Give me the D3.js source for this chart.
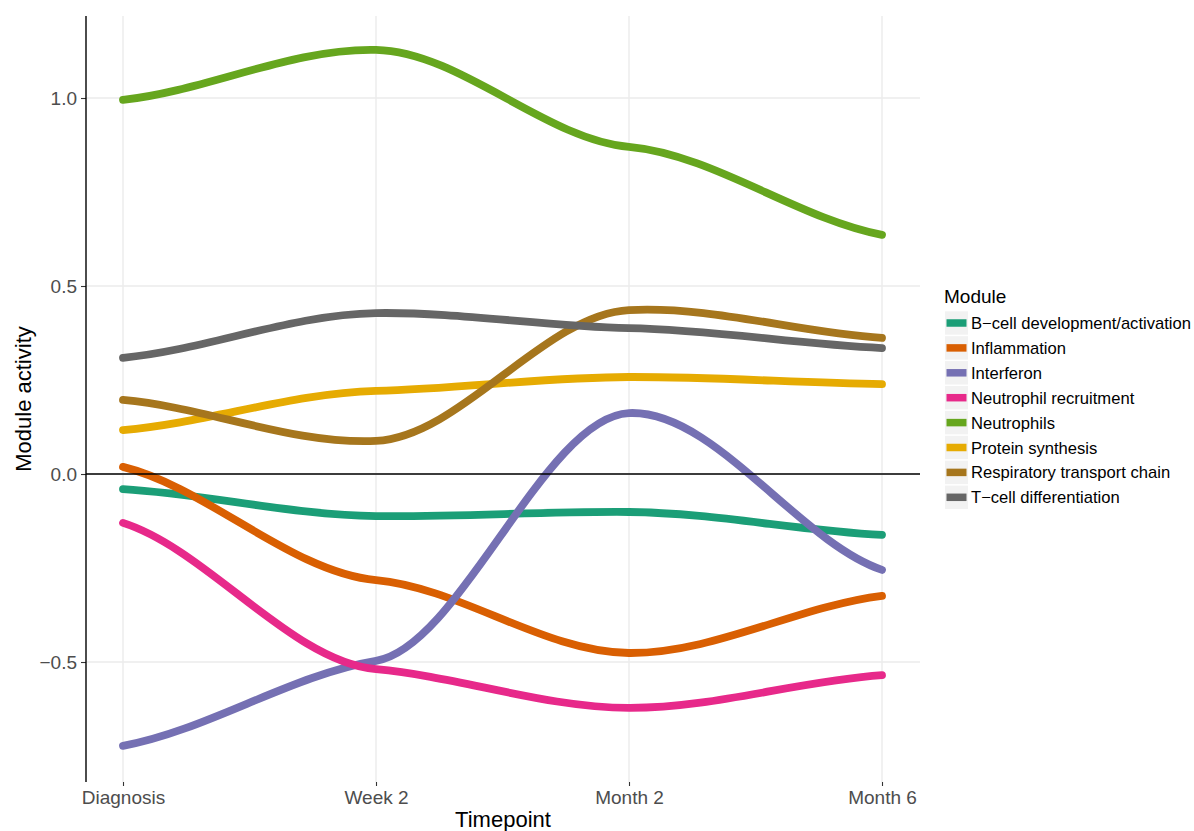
<!DOCTYPE html>
<html>
<head>
<meta charset="utf-8">
<script src="https://cdn.jsdelivr.net/npm/d3@7"></script>
<style>
  html, body { margin: 0; padding: 0; background: #ffffff; }
  svg { display: block; font-family: "Liberation Sans", Arial, Helvetica, sans-serif; }
</style>
</head>
<body>
<svg id="chart" width="1194" height="831"></svg>
<script>
// Timepoints along the x axis
const timepoints = ["Diagnosis", "Week 2", "Month 2", "Month 6"];

// Module names, in legend order
const modules = [
  "B\u2212cell development/activation",
  "Inflammation",
  "Interferon",
  "Neutrophil recruitment",
  "Neutrophils",
  "Protein synthesis",
  "Respiratory transport chain",
  "T\u2212cell differentiation"
];

// Module activity per timepoint
const bcell        = [-0.040, -0.112, -0.101, -0.162];
const inflammation = [0.019, -0.282, -0.476, -0.324];
const interferon   = [-0.723, -0.497, 0.162, -0.255];
const neutRecruit  = [-0.130, -0.519, -0.622, -0.535];
const neutrophils  = [0.995, 1.128, 0.870, 0.636];
const protein      = [0.117, 0.221, 0.258, 0.239];
const respiratory  = [0.197, 0.088, 0.436, 0.362];
const tcell        = [0.309, 0.428, 0.388, 0.335];

const seriesValues = [bcell, inflammation, interferon, neutRecruit, neutrophils, protein, respiratory, tcell];

// Dark2 palette
const palette = ["#1B9E77", "#D95F02", "#7570B3", "#E7298A", "#66A61E", "#E6AB02", "#A6761D", "#666666"];

const yTicks = [-0.5, 0.0, 0.5, 1.0];

const svg = d3.select("#chart");

const panel = { left: 86, right: 920, top: 16, bottom: 782 };

const x = d3.scalePoint()
  .domain(timepoints)
  .range([123, 882]);

const y = d3.scaleLinear()
  .domain([-0.8191, 1.2181])
  .range([panel.bottom, panel.top]);

// Smooth interpolating curve: cubic Hermite segments with damped tangents,
// giving the gentle shoulders at each timepoint.
function dampedHermite(context) {
  const kInner = 0.25, kEnd = 0.55;
  let pts;
  return {
    lineStart() { pts = []; },
    point(px, py) { pts.push([+px, +py]); },
    lineEnd() {
      const n = pts.length;
      if (!n) return;
      const m = new Array(n).fill(0);
      for (let i = 0; i < n; i++) {
        if (n < 2) break;
        if (i === 0) m[i] = kEnd * (pts[1][1] - pts[0][1]) / (pts[1][0] - pts[0][0]);
        else if (i === n - 1) m[i] = kEnd * (pts[n - 1][1] - pts[n - 2][1]) / (pts[n - 1][0] - pts[n - 2][0]);
        else m[i] = kInner * (pts[i + 1][1] - pts[i - 1][1]) / (pts[i + 1][0] - pts[i - 1][0]);
      }
      context.moveTo(pts[0][0], pts[0][1]);
      for (let i = 0; i < n - 1; i++) {
        const [x0, y0] = pts[i], [x1, y1] = pts[i + 1];
        const h = (x1 - x0) / 3;
        context.bezierCurveTo(x0 + h, y0 + m[i] * h, x1 - h, y1 - m[i + 1] * h, x1, y1);
      }
    },
    areaStart() {}, areaEnd() {}
  };
}

// Grid lines
const grid = svg.append("g");
grid.selectAll("line.h")
  .data(yTicks)
  .join("line")
  .attr("x1", panel.left).attr("x2", panel.right)
  .attr("y1", d => y(d)).attr("y2", d => y(d))
  .attr("stroke", "#ebebeb").attr("stroke-width", 1.4);
grid.selectAll("line.v")
  .data(timepoints)
  .join("line")
  .attr("x1", d => x(d)).attr("x2", d => x(d))
  .attr("y1", panel.top).attr("y2", panel.bottom)
  .attr("stroke", "#ebebeb").attr("stroke-width", 1.4);

// Series lines
const line = d3.line()
  .x((d, i) => x(timepoints[i]))
  .y(d => y(d))
  .curve(dampedHermite);

svg.append("g")
  .selectAll("path")
  .data(seriesValues)
  .join("path")
  .attr("d", d => line(d))
  .attr("fill", "none")
  .attr("stroke", (d, i) => palette[i])
  .attr("stroke-width", 7.8)
  .attr("stroke-linecap", "round")
  .attr("stroke-linejoin", "round");

// Zero reference line
svg.append("line")
  .attr("x1", panel.left).attr("x2", panel.right)
  .attr("y1", y(0)).attr("y2", y(0))
  .attr("stroke", "#000").attr("stroke-width", 1.4);

// Axes
const xAxis = svg.append("g")
  .attr("transform", `translate(0,${panel.bottom})`)
  .call(d3.axisBottom(x).tickSize(4).tickPadding(5));
xAxis.select(".domain").remove();

const yAxis = svg.append("g")
  .attr("transform", `translate(${panel.left},0)`)
  .call(d3.axisLeft(y).tickValues(yTicks).tickSize(5).tickPadding(4)
    .tickFormat(d => d3.format(".1f")(d).replace("-", "\u2212")));
yAxis.select(".domain").remove();

[xAxis, yAxis].forEach(a => {
  a.selectAll(".tick line").attr("stroke", "#333").attr("stroke-width", 1.1);
  a.selectAll(".tick text").attr("fill", "#4d4d4d").attr("font-size", "19px")
    .attr("font-family", "'Liberation Sans', Arial, sans-serif");
});

// Y axis line
svg.append("line")
  .attr("x1", panel.left).attr("x2", panel.left)
  .attr("y1", panel.top).attr("y2", panel.bottom)
  .attr("stroke", "#000").attr("stroke-width", 1.4);

// Axis titles
svg.append("text")
  .attr("x", (panel.left + panel.right) / 2).attr("y", 827)
  .attr("text-anchor", "middle").attr("font-size", "22px").attr("fill", "#000")
  .text("Timepoint");

svg.append("text")
  .attr("transform", `translate(31,${(panel.top + panel.bottom) / 2}) rotate(-90)`)
  .attr("text-anchor", "middle").attr("font-size", "22px").attr("fill", "#000")
  .text("Module activity");

// Legend
const legend = svg.append("g").attr("transform", "translate(944,0)");
legend.append("text")
  .attr("x", 0).attr("y", 303)
  .attr("font-size", "19px").attr("fill", "#000")
  .text("Module");

const rows = legend.selectAll("g.row")
  .data(modules)
  .join("g")
  .attr("transform", (d, i) => `translate(0,${323 + i * 24.9})`);
rows.append("rect")
  .attr("x", 1).attr("y", -11.7).attr("width", 23).attr("height", 23.4)
  .attr("fill", "#f2f2f2");
rows.append("line")
  .attr("x1", 2.5).attr("x2", 22.5).attr("y1", 0).attr("y2", 0)
  .attr("stroke", (d, i) => palette[i]).attr("stroke-width", 7.5);
rows.append("text")
  .attr("x", 27).attr("y", 6)
  .attr("font-size", "16.6px").attr("fill", "#000")
  .text(d => d);
</script>
</body>
</html>
